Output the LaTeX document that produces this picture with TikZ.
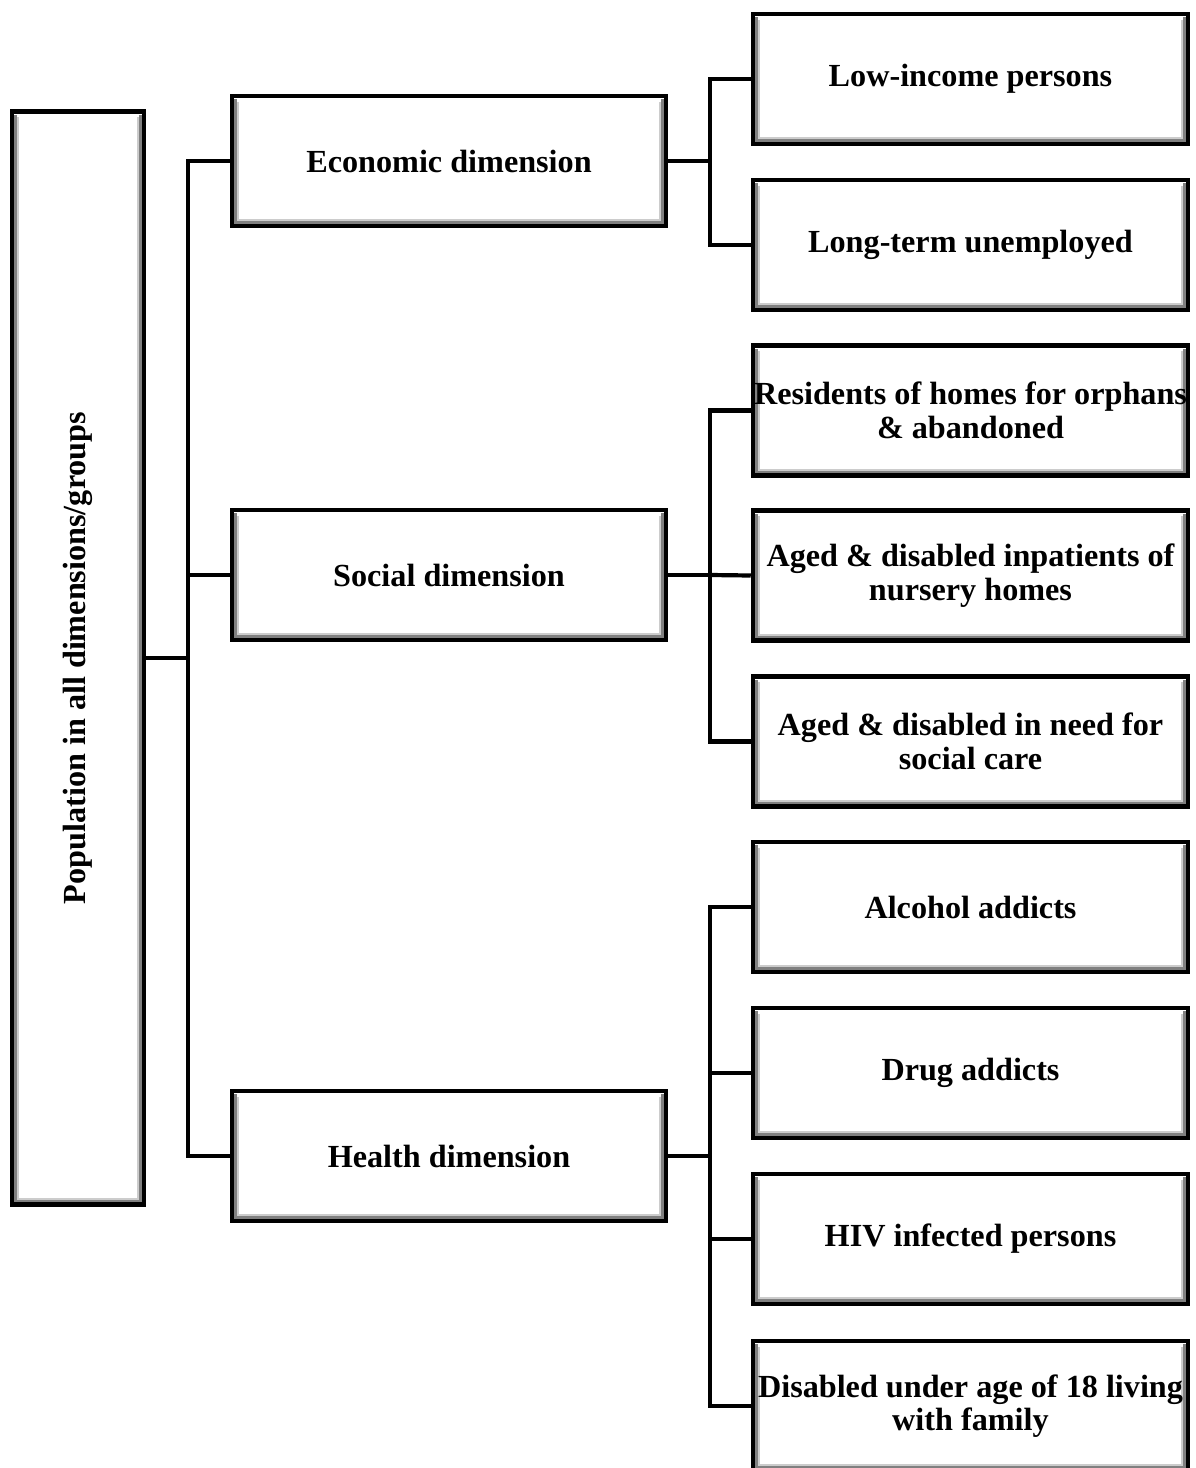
\documentclass[tikz,border=0pt]{standalone}
\usepackage{fontspec}
\usepackage{graphicx}
\setmainfont{Liberation Serif}
\begin{document}
\begin{tikzpicture}[x=1pt,y=-1pt,
  box/.style={draw=black, line width=4.5pt, fill=white, inner sep=0pt, align=center,
    font=\bfseries\fontsize{32.2}{33.5}\selectfont,
    path picture={
      \foreach \dd/\cc in {3.4/50,5.8/20} {
        \draw[black!\cc, line width=2.4pt]
          ([shift={(\dd pt,-\dd pt)}]path picture bounding box.north west) --
          ([shift={(\dd pt,\dd pt)}]path picture bounding box.south west) --
          ([shift={(-\dd pt,\dd pt)}]path picture bounding box.south east) --
          ([shift={(-\dd pt,-\dd pt)}]path picture bounding box.north east);
      }
    }},
  lone/.style={box, minimum width=434pt, minimum height=130pt},
  ltwo/.style={box, minimum width=435pt, minimum height=130pt},
  conn/.style={draw=black, line width=4.2pt}]
\useasboundingbox (0,0) rectangle (1196,1468);
\clip (0,0) rectangle (1196,1468);

% root
\node[box, minimum width=132pt, minimum height=1093pt] (r) at (78,658)
  {\rotatebox{90}{Population in all dimensions/groups}};

% level 1
\node[lone] (e) at (449,161) {Economic dimension};
\node[lone] (s) at (449,575) {Social dimension};
\node[lone] (h) at (449,1156) {Health dimension};

% level 2
\node[ltwo] (l1) at (970.5,79) {Low-income persons};
\node[ltwo] (l2) at (970.5,245) {Long-term unemployed};
\node[ltwo] (l3) at (970.5,410.5) {Residents of homes for orphans\\\& abandoned};
\node[ltwo] (l4) at (970.5,575.5) {Aged \& disabled inpatients of\\nursery homes};
\node[ltwo] (l5) at (970.5,741.5) {Aged \& disabled in need for\\social care};
\node[ltwo] (l6) at (970.5,907) {Alcohol addicts};
\node[ltwo] (l7) at (970.5,1073) {Drug addicts};
\node[ltwo] (l8) at (970.5,1239) {HIV infected persons};
\node[ltwo] (l9) at (970.5,1406) {Disabled under age of 18 living\\with family};

% connectors root -> level 1
\draw[conn] (r.east) -- ++(42,0) coordinate (j0);
\draw[conn] (e.west) -| (j0);
\draw[conn] (h.west) -| (j0);
\draw[conn] (s.west) -- (s.west -| j0);

% economic
\draw[conn] (e.east) -- ++(42,0) coordinate (j1);
\draw[conn] (l1.west) -| (j1);
\draw[conn] (l2.west) -| (j1);

% social
\draw[conn] (s.east) -- ++(42,0) coordinate (j2);
\draw[conn] (l3.west) -| (j2);
\draw[conn] (l5.west) -| (j2);
\draw[conn] (l4.west) -- (j2);

% health
\draw[conn] (h.east) -- ++(42,0) coordinate (j3);
\draw[conn] (l6.west) -| (j3);
\draw[conn] (l7.west) -| (j3);
\draw[conn] (l8.west) -| (j3);
\draw[conn] (l9.west) -| (j3);
\end{tikzpicture}
\end{document}
